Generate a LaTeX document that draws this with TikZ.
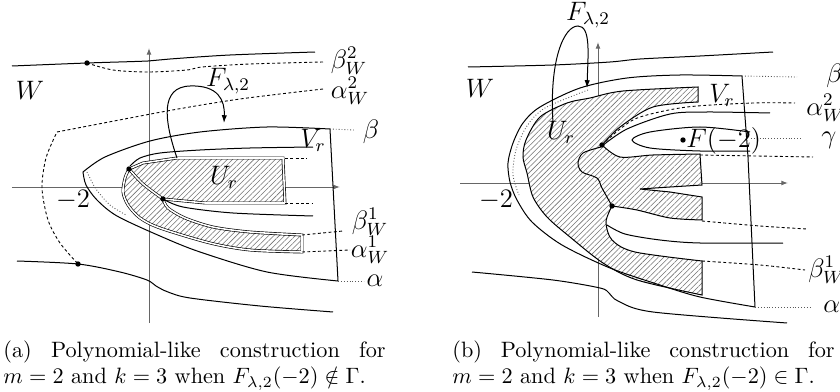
\documentclass[tikz,border=0pt]{standalone}
\usepackage{amsmath,amssymb}
\usetikzlibrary{arrows.meta,patterns.meta}

\begin{document}
\begin{tikzpicture}[x=0.45pt,y=-0.45pt,
  axis/.style={draw=black!60,line width=0.45pt},
  axarrow/.style={-{Latex[length=3pt,width=2.2pt]}},
  curve/.style={draw,line width=0.45pt},
  dashcurve/.style={draw,line width=0.4pt,dash pattern=on 1.3pt off 1.1pt},
  dotcurve/.style={draw,black!65,line width=0.4pt,dash pattern=on 0.4pt off 0.9pt},
  hatchreg/.style={preaction={fill=white},
    pattern={Lines[angle=45,distance=1.7pt,line width=0.25pt]},pattern color=black!55},
  dblline/.style={draw,double,double distance=0.7pt,line width=0.3pt},
  maparrow/.style={-{Latex[length=3.5pt,width=2.4pt]},line width=0.45pt},
  lbl/.style={inner sep=0pt,font=\fontsize{11.5}{13}\selectfont},
  blob/.style={circle,fill,inner sep=0pt,minimum size=2.4pt},
  captxt/.style={anchor=north west,inner sep=0pt,text width=172pt,align=justify}
]
\useasboundingbox (0,0) rectangle (840,392);

% ---------- panel (a) ----------
\draw[axis,axarrow] (12,187) -- (340,187);
\draw[axis,axarrow] (149,323) -- (149,48);

% U_r, hatched
\path[hatchreg,dblline] (129,169) -- (143,163) -- (177,158) -- (283,158) -- (285,203)
  -- (205,203) -- (163,199)
  -- plot[smooth] coordinates {(163,199) (168,208) (185,218) (213,227) (250,232) (302,235)}
  -- (302,252)
  -- plot[smooth] coordinates {(302,252) (250,250) (210,243) (160,228) (140,218) (128,205) (123,192) (125,178) (129,169)}
  -- cycle;
\draw[dblline] plot[smooth] coordinates {(129,169) (143,184) (163,199)};

% W boundary
\draw[curve] plot[smooth] coordinates {(12,66) (87,63) (148,61) (170,59) (230,55) (315,52)};
\draw[curve] plot[smooth] coordinates {(17,261) (78,264) (120,272) (147,280) (156,286) (168,292) (190,298) (260,306) (333,312)};
\draw[dashcurve] plot[smooth] coordinates {(87,63) (113,70) (148,72) (187,70) (202,67) (250,64) (323,62)};
\draw[dashcurve] plot[smooth] coordinates {(323,89) (240,99) (167,111) (57,132)}
  -- plot[smooth] coordinates {(57,132) (46,158) (42,188) (48,220) (60,243) (78,264)};

% V_r
\draw[curve] plot[smooth] coordinates {(330,129) (267,127) (200,132) (150,141) (105,157) (83,172)}
  -- plot[smooth] coordinates {(83,172) (86,185) (97,200) (117,216) (160,236) (200,252) (267,272) (338,281)}
  -- cycle;
\draw[dotcurve] plot[smooth] coordinates {(87,172) (96,189) (110,205) (126,215)};

% inner curves
\draw[curve] plot[smooth] coordinates {(313,147) (250,148) (200,150) (160,153) (140,158) (130,166)};
\draw[curve] plot[smooth] coordinates {(163,199) (183,207) (233,213) (313,216)};

% extensions to the labels
\draw[dashcurve] (285,158) -- (307,158);
\draw[dashcurve] (285,203) -- (312,203);
\draw[dashcurve] (302,235) -- (343,231);
\draw[dashcurve] (302,252) -- (350,250);
\draw[dotcurve] (330,129) -- (354,130);
\draw[dotcurve] (338,281) -- (364,281);

\node[blob] (pa1) at (87,63) {};
\node[blob] (pa2) at (78,264) {};
\node[blob] (pa3) at (129,169) {};
\node[blob] (pa4) at (163,199) {};

\draw[maparrow] (177,158) .. controls (164,120) and (160,87) .. (190,86)
  .. controls (218,85) and (225,100) .. (224,123);

\node[lbl] (Wa) at (30,90) {$W$};
\node[lbl] (Fa) at (228,81) {$F_{\lambda,2}$};
\node[lbl] (bWtwoa) at (349,61) {$\beta_W^2$};
\node[lbl] (aWtwoa) at (350,91) {$\alpha_W^2$};
\node[lbl] (betaa) at (371,132) {$\beta$};
\node[lbl] (Vra) at (313,140) {$V_r$};
\node[lbl] (Ura) at (224,177) {$U_r$};
\node[lbl] (mtwoa) at (73,200) {$-2$};
\node[lbl] (bWonea) at (370,222) {$\beta_W^1$};
\node[lbl] (aWonea) at (370,250) {$\alpha_W^1$};
\node[lbl] (alphaa) at (375,281) {$\alpha$};

\node[captxt] (capa) at (3,340) {(a) Polynomial-like construction for\linebreak
  $m=2$ and $k=3$ when $F_{\lambda,2}(-2)\notin\Gamma$.};

% ---------- panel (b) ----------
\draw[axis,axarrow] (460,183) -- (788,183);
\draw[axis,axarrow] (598,317) -- (598,42);

% U_r, hatched
\path[hatchreg,curve] (698,87) -- (698,102)
  -- plot[smooth] coordinates {(698,102) (653,107) (620,127) (602,145)}
  -- plot[smooth] coordinates {(602,145) (620,157) (653,155) (700,154)}
  -- (702,185) -- (670,187) -- (640,189) -- (670,192) -- (702,197) -- (702,220)
  -- plot[smooth] coordinates {(702,220) (670,218) (637,210) (612,206)}
  -- plot[smooth] coordinates {(612,206) (606,222) (612,240) (635,252) (702,261)}
  -- (702,295)
  -- plot[smooth] coordinates {(702,295) (637,280) (603,263) (570,237) (547,217) (533,197) (527,173) (523,157) (526,140) (540,117) (567,103) (590,98) (623,91) (698,87)}
  -- cycle;
\draw[curve] plot[smooth] coordinates {(601,147) (583,153) (578,163) (582,172) (597,178) (602,188) (612,206)};

% W boundary
\draw[curve] plot[smooth] coordinates {(468,67) (553,65) (610,62) (640,59) (700,56) (773,52)};
\draw[curve] plot[smooth] coordinates {(472,272) (553,280) (600,288) (609,293) (618,301) (653,312) (787,323)};

% V_r
\draw[curve] (742,76) -- (748,157) -- (755,307)
  -- plot[smooth] coordinates {(755,307) (700,297) (660,285) (610,268) (562,245) (532,222) (517,200) (510,182) (508,163) (513,143) (523,123) (540,107) (580,88) (627,78) (680,75) (742,76)};
\draw[dotcurve] plot[smooth] coordinates {(588,90) (545,108) (527,126) (516,150) (513,175) (519,195)};

% channels
\draw[curve] plot[smooth] coordinates {(602,146) (627,129) (670,114) (707,112) (770,113)};
\draw[curve] plot[smooth] coordinates {(750,132) (700,127) (650,132) (632,140) (650,148) (700,151) (750,151)};
\draw[curve] plot[smooth] coordinates {(607,225) (625,234) (660,240) (700,243) (783,243)};
\draw[dashcurve] plot[smooth] coordinates {(602,145) (620,129) (640,117) (687,107) (753,103) (795,103)};
\draw[dashcurve] (700,155) -- (813,157);
\draw[dashcurve] plot[smooth] coordinates {(702,221) (760,226) (807,229)};
\draw[dashcurve] plot[smooth] coordinates {(702,261) (760,265) (805,270)};
\draw[dotcurve] (742,76) -- (797,77);
\draw[dotcurve] (751,138) -- (802,138);
\draw[dotcurve] (755,307) -- (812,307);

\node[blob] (pb1) at (602,145) {};
\node[blob] (pb2) at (612,206) {};
\node[blob] (pb3) at (683,140) {};

\draw[maparrow] (553,123) .. controls (549,60) and (564,26) .. (578,26)
  .. controls (591,26) and (588,55) .. (587,88);

\node[lbl] (Wb) at (480,88) {$W$};
\node[lbl] (Fb) at (588,15) {$F_{\lambda,2}$};
\node[lbl] (Urb) at (561,132) {$U_r$};
\node[lbl] (Vrb) at (722,95) {$V_r$};
\node[lbl,anchor=west] (Fmtwo) at (686,141) {$F(-2)$};
\node[lbl] (mtwob) at (496,200) {$-2$};
\node[lbl,anchor=west] (betab) at (826,76) {$\beta$};
\node[lbl,anchor=west] (aWtwob) at (806,108) {$\alpha_W^2$};
\node[lbl,anchor=west] (gammab) at (821,140) {$\gamma$};
\node[lbl,anchor=west] (bWoneb) at (808,270) {$\beta_W^1$};
\node[lbl,anchor=west] (alphab) at (823,307) {$\alpha$};

\node[captxt] (capb) at (452,340) {(b) Polynomial-like construction for\linebreak
  $m=2$ and $k=3$ when $F_{\lambda,2}(-2)\in\Gamma$.};
\end{tikzpicture}
\end{document}
